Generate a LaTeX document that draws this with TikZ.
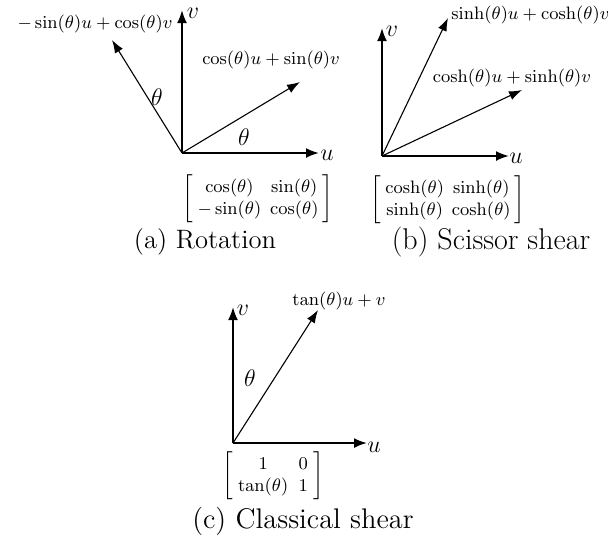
\documentclass[tikz,border=0pt]{standalone}
\usetikzlibrary{arrows.meta}
\begin{document}
\begin{tikzpicture}[x=0.5pt,y=-0.5pt,
  axis/.style={line width=1pt,-{Latex[length=6.5pt,width=5pt]}},
  vec/.style={line width=0.55pt,-{Latex[length=6.5pt,width=4.6pt]}},
  lbl/.style={inner sep=0pt,font=\fontsize{8.9}{11}\selectfont},
  axl/.style={inner sep=0pt,font=\fontsize{12}{14}\selectfont},
  mat/.style={inner sep=0pt,font=\fontsize{8.8}{11}\selectfont},
  captxt/.style={inner sep=0pt}]
\useasboundingbox (0,0) rectangle (608,538);
% ---------- (a) Rotation ----------
\coordinate (Oa) at (182,153);
\coordinate (ua) at (319,153);
\coordinate (va) at (182,10);
\coordinate (ca) at (300,82);
\coordinate (sa) at (112,40);
\draw[axis] (Oa) -- (ua);
\draw[axis] (Oa) -- (va);
\draw[vec] (Oa) -- (ca);
\draw[vec] (Oa) -- (sa);
\node[axl] (ula) at (327,155) {$u$};
\node[axl] (vla) at (193,13) {$v$};
\node[axl] (t1a) at (157,97) {$\theta$};
\node[axl] (t2a) at (244,137) {$\theta$};
\node[lbl] (la1) at (95,24) {$-\sin(\theta)u+\cos(\theta)v$};
\node[lbl] (la2) at (271,60) {$\cos(\theta)u+\sin(\theta)v$};
\node[mat] (ma) at (258,199) {\setlength{\arraycolsep}{2.2pt}$\left[\begin{array}{cc}\cos(\theta) & \sin(\theta)\\ -\sin(\theta) & \cos(\theta)\end{array}\right]$};
\node[captxt,font=\fontsize{13.3}{16}\selectfont] (capa) at (205,242) {(a) Rotation};
% ---------- (b) Scissor shear ----------
\coordinate (Ob) at (382,156);
\coordinate (ub) at (509,156);
\coordinate (vb) at (382,28);
\coordinate (sb) at (448,18);
\coordinate (cb) at (522,90);
\draw[axis] (Ob) -- (ub);
\draw[axis] (Ob) -- (vb);
\draw[vec] (Ob) -- (sb);
\draw[vec] (Ob) -- (cb);
\node[axl] (ulb) at (516,158) {$u$};
\node[axl] (vlb) at (392,31) {$v$};
\node[lbl,anchor=west] (lb1) at (451,15) {$\sinh(\theta)u+\cosh(\theta)v$};
\node[lbl] (lb2) at (512,78) {$\cosh(\theta)u+\sinh(\theta)v$};
\node[mat] (mb) at (448,200) {\setlength{\arraycolsep}{2pt}$\left[\begin{array}{cc}\cosh(\theta) & \sinh(\theta)\\ \sinh(\theta) & \cosh(\theta)\end{array}\right]$};
\node[captxt,font=\fontsize{15}{18}\selectfont] (capb) at (491,242) {(b) Scissor shear};
% ---------- (c) Classical shear ----------
\coordinate (Oc) at (233,443);
\coordinate (uc) at (367,443);
\coordinate (vc) at (233,307);
\coordinate (tc) at (318,310);
\draw[axis] (Oc) -- (uc);
\draw[axis] (Oc) -- (vc);
\draw[vec] (Oc) -- (tc);
\node[axl] (ulc) at (374,447) {$u$};
\node[axl] (vlc) at (243,310) {$v$};
\node[axl] (tlc) at (250,378) {$\theta$};
\node[lbl] (lc) at (339,301) {$\tan(\theta)u+v$};
\node[mat] (mc) at (273,476) {\setlength{\arraycolsep}{2.6pt}$\left[\begin{array}{cc}1 & 0\\ \tan(\theta) & 1\end{array}\right]$};
\node[captxt,font=\fontsize{14.2}{17}\selectfont] (capc) at (303,521) {(c) Classical shear};
\end{tikzpicture}
\end{document}
